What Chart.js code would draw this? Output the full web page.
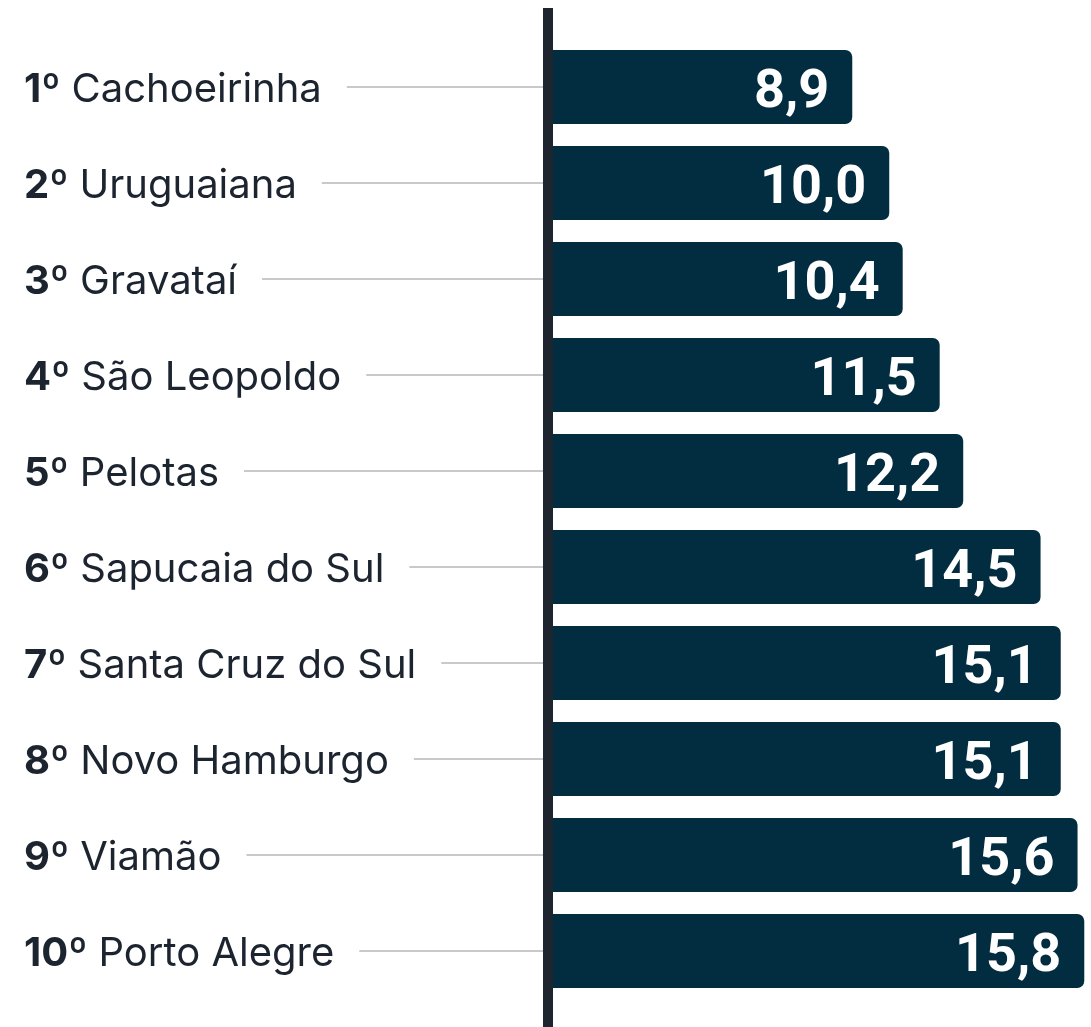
<!DOCTYPE html>
<html>
<head>
<meta charset="utf-8">
<script src="https://cdn.jsdelivr.net/npm/chart.js@4"></script>
<style>
html,body{margin:0;padding:0;background:#fff;}
#wrap{width:1091px;height:1027px;position:relative;}
</style>
</head>
<body>
<div id="wrap"><canvas id="c" width="1091" height="1027"></canvas></div>
<script>
const ranks = ['1º','2º','3º','4º','5º','6º','7º','8º','9º','10º'];
const cities = ['Cachoeirinha','Uruguaiana','Gravataí','São Leopoldo','Pelotas','Sapucaia do Sul','Santa Cruz do Sul','Novo Hamburgo','Viamão','Porto Alegre'];
const values = [8.9,10.0,10.4,11.5,12.2,14.5,15.1,15.1,15.6,15.8];
const valueLabels = ['8,9','10,0','10,4','11,5','12,2','14,5','15,1','15,1','15,6','15,8'];

const overlay = {
  id: 'overlay',
  afterDatasetsDraw(chart) {
    const ctx = chart.ctx;
    const meta = chart.getDatasetMeta(0);
    const yScale = chart.scales.y;
    ctx.save();
    meta.data.forEach((bar, i) => {
      const y = yScale.getPixelForValue(i);
      ctx.textBaseline = 'alphabetic';
      ctx.textAlign = 'left';
      ctx.fillStyle = '#1c2430';
      ctx.font = 'bold 40px Inter';
      const x0 = 24;
      ctx.fillText(ranks[i], x0, y + 15);
      const w1 = ctx.measureText(ranks[i]).width + 11;
      ctx.font = '40px Inter';
      ctx.fillText(cities[i], x0 + w1, y + 15);
      const w2 = ctx.measureText(cities[i]).width;
      const lx = x0 + w1 + w2 + 25;
      ctx.strokeStyle = '#c9c9c9';
      ctx.lineWidth = 2;
      ctx.beginPath();
      ctx.moveTo(lx, y);
      ctx.lineTo(545, y);
      ctx.stroke();
      ctx.fillStyle = '#ffffff';
      ctx.font = 'bold 54px Roboto';
      ctx.textAlign = 'right';
      ctx.fillText(valueLabels[i], bar.x - 23, y + 20);
    });
    ctx.fillStyle = '#1e252f';
    ctx.fillRect(543, 8, 10, 1019);
    ctx.restore();
  }
};

new Chart(document.getElementById('c'), {
  type: 'bar',
  data: {
    labels: cities,
    datasets: [{
      data: values,
      backgroundColor: '#022c3f',
      borderRadius: 7,
      borderSkipped: 'start',
      barPercentage: 0.77,
      categoryPercentage: 1
    }]
  },
  options: {
    indexAxis: 'y',
    responsive: false,
    animation: false,
    layout: { padding: { left: 553, right: 0, top: 39, bottom: 28 } },
    plugins: { legend: { display: false }, tooltip: { enabled: false } },
    scales: {
      x: { display: false, min: 0, max: 16 },
      y: { display: false }
    }
  },
  plugins: [overlay]
});
</script>
</body>
</html>
